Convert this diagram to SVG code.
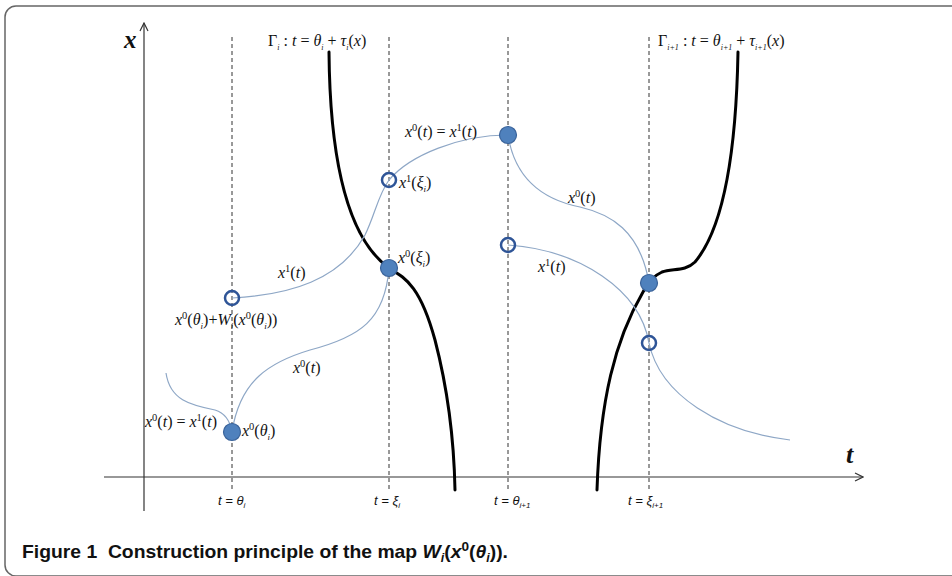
<svg xmlns="http://www.w3.org/2000/svg" width="952" height="576" viewBox="0 0 952 576">
<defs>
<style>
.t{font-family:"Liberation Serif",serif;font-size:16px;fill:#111}
.it{font-style:italic}
.sp{font-size:10.5px}
.sb{font-size:9px}
.gs{font-size:8px}
.ax{font-family:"Liberation Sans",sans-serif;font-size:13px;font-style:italic;fill:#111}
.axs{font-size:8px}
.guide{stroke:#333;stroke-width:1;stroke-dasharray:4 3;fill:none}
.gamma{stroke:#000;stroke-width:3;fill:none;stroke-linecap:round}
.traj{stroke:#8ea7c6;stroke-width:1.2;fill:none}
.dot{fill:#4f81bd;stroke:#3a639a;stroke-width:1.2}
.ring{fill:none;stroke:#2f5597;stroke-width:2.5}
.axis{stroke:#333;stroke-width:1.2;fill:none}
.cap{font-family:"Liberation Sans",sans-serif;font-size:18.5px;font-weight:bold;fill:#111}
</style>
<marker id="arr" viewBox="0 0 10 10" refX="9" refY="5" markerWidth="10" markerHeight="10" markerUnits="userSpaceOnUse" orient="auto">
<path d="M1 1 L9 5 L1 9" fill="none" stroke="#333" stroke-width="1.2"/>
</marker>
</defs>
<rect width="952" height="576" fill="#fff"/>
<rect id="frame" x="5" y="6" width="970" height="570" rx="11" fill="none" stroke="#666" stroke-width="1.5"/>

<g id="axes">
<line class="axis" x1="144" y1="511" x2="144" y2="23" marker-end="url(#arr)"/>
<line class="axis" x1="104" y1="477" x2="863" y2="477" marker-end="url(#arr)"/>
<text x="124" y="48" font-family="Liberation Serif,serif" font-size="25" font-style="italic" font-weight="bold" fill="#111">x</text>
<text x="846" y="463" font-family="Liberation Serif,serif" font-size="26" font-style="italic" font-weight="bold" fill="#111">t</text>
</g>

<g id="guides">
<line class="guide" x1="232" y1="37" x2="232" y2="490"/>
<line class="guide" x1="389" y1="37" x2="389" y2="490"/>
<line class="guide" x1="508" y1="37" x2="508" y2="490"/>
<line class="guide" x1="649" y1="37" x2="649" y2="490"/>
<text class="ax" x="218" y="505">t = θ<tspan class="axs" dy="3">i</tspan></text>
<text class="ax" x="374" y="505">t = ξ<tspan class="axs" dy="3">i</tspan></text>
<text class="ax" x="494" y="505">t = θ<tspan class="axs" dy="3">i+1</tspan></text>
<text class="ax" x="628" y="505">t = ξ<tspan class="axs" dy="3">i+1</tspan></text>
</g>

<g id="connectors">
<path id="gamma-i" class="gamma" d="M329 52 C330 170 350 240 389 268 C405 278 420 285 435 340 C448 390 454 440 455 490"/>
<path id="gamma-i1" class="gamma" d="M738 52 C736 160 722 230 695 262 C685 272 672 268 662 272 C653 276 648 282 643 292 C615 340 600 400 597 490"/>
<path class="traj" d="M166 373 C170 400 190 405 215 410 C225 413 230 420 232 432"/>
<path class="traj" d="M232 432 C240 380 270 362 310 350 C360 337 385 320 389 268"/>
<path class="traj" d="M232 298 C290 295 340 280 365 235 C375 215 378 195 389 180 C410 155 460 135 508 135"/>
<path class="traj" d="M508 135 C515 180 545 200 580 207 C610 214 640 230 649 283"/>
<path class="traj" d="M508 245 C580 250 640 290 649 343 C660 395 720 432 790 440"/>
</g>

<g id="labels-gamma">
<text class="t" x="268" y="46">Γ<tspan class="gs it" dy="4">i</tspan><tspan dy="-4"> : </tspan><tspan class="it">t</tspan> = <tspan class="it">θ</tspan><tspan class="gs it" dy="4">i</tspan><tspan dy="-4"> + </tspan><tspan class="it">τ</tspan><tspan class="gs it" dy="4">i</tspan><tspan dy="-4">(</tspan><tspan class="it">x</tspan>)</text>
<text class="t" x="658" y="46">Γ<tspan class="gs it" dy="4">i+1</tspan><tspan dy="-4"> : </tspan><tspan class="it">t</tspan> = <tspan class="it">θ</tspan><tspan class="gs it" dy="4">i+1</tspan><tspan dy="-4"> + </tspan><tspan class="it">τ</tspan><tspan class="gs it" dy="4">i+1</tspan><tspan dy="-4">(</tspan><tspan class="it">x</tspan>)</text>
</g>

<g id="node-theta-i">
<circle class="dot" cx="232" cy="432" r="8.5"/>
<text class="t" x="242" y="436"><tspan class="it">x</tspan><tspan class="sp" dy="-6">0</tspan><tspan dy="6">(</tspan><tspan class="it">θ</tspan><tspan class="sb it" dy="4">i</tspan><tspan dy="-4">)</tspan></text>
<text class="t" x="145" y="427"><tspan class="it">x</tspan><tspan class="sp" dy="-6">0</tspan><tspan dy="6">(</tspan><tspan class="it">t</tspan>) = <tspan class="it">x</tspan><tspan class="sp" dy="-6">1</tspan><tspan dy="6">(</tspan><tspan class="it">t</tspan>)</text>
</g>

<g id="node-jump-i">
<circle class="ring" cx="232" cy="298" r="7"/>
<text class="t" x="175" y="325"><tspan class="it">x</tspan><tspan class="sp" dy="-6">0</tspan><tspan dy="6">(</tspan><tspan class="it">θ</tspan><tspan class="sb it" dy="4">i</tspan><tspan dy="-4">)+</tspan><tspan class="it">W</tspan><tspan class="sb it" dy="4">i</tspan><tspan dy="-4">(</tspan><tspan class="it">x</tspan><tspan class="sp" dy="-6">0</tspan><tspan dy="6">(</tspan><tspan class="it">θ</tspan><tspan class="sb it" dy="4">i</tspan><tspan dy="-4">))</tspan></text>
</g>

<g id="node-xi-i">
<circle class="dot" cx="389" cy="268" r="8.5"/>
<text class="t" x="398" y="263"><tspan class="it">x</tspan><tspan class="sp" dy="-6">0</tspan><tspan dy="6">(</tspan><tspan class="it">ξ</tspan><tspan class="sb it" dy="4">i</tspan><tspan dy="-4">)</tspan></text>
</g>

<g id="node-x1-xi-i">
<circle class="ring" cx="389" cy="180" r="7"/>
<text class="t" x="399" y="188"><tspan class="it">x</tspan><tspan class="sp" dy="-6">1</tspan><tspan dy="6">(</tspan><tspan class="it">ξ</tspan><tspan class="sb it" dy="4">i</tspan><tspan dy="-4">)</tspan></text>
</g>

<g id="node-theta-i1">
<circle class="dot" cx="508" cy="135" r="8.5"/>
<text class="t" x="405" y="137"><tspan class="it">x</tspan><tspan class="sp" dy="-6">0</tspan><tspan dy="6">(</tspan><tspan class="it">t</tspan>) = <tspan class="it">x</tspan><tspan class="sp" dy="-6">1</tspan><tspan dy="6">(</tspan><tspan class="it">t</tspan>)</text>
</g>

<g id="node-jump-i1">
<circle class="ring" cx="508" cy="245" r="7"/>
</g>

<g id="node-xi-i1">
<circle class="dot" cx="649" cy="283" r="8.5"/>
</g>

<g id="node-x1-xi-i1">
<circle class="ring" cx="649" cy="343" r="7"/>
</g>

<g id="traj-labels">
<text class="t" x="278" y="278"><tspan class="it">x</tspan><tspan class="sp" dy="-6">1</tspan><tspan dy="6">(</tspan><tspan class="it">t</tspan>)</text>
<text class="t" x="293" y="373"><tspan class="it">x</tspan><tspan class="sp" dy="-6">0</tspan><tspan dy="6">(</tspan><tspan class="it">t</tspan>)</text>
<text class="t" x="568" y="203"><tspan class="it">x</tspan><tspan class="sp" dy="-6">0</tspan><tspan dy="6">(</tspan><tspan class="it">t</tspan>)</text>
<text class="t" x="538" y="272"><tspan class="it">x</tspan><tspan class="sp" dy="-6">1</tspan><tspan dy="6">(</tspan><tspan class="it">t</tspan>)</text>
</g>

<text id="caption" class="cap" x="22" y="558" xml:space="preserve" textLength="486" lengthAdjust="spacingAndGlyphs">Figure 1  Construction principle of the map <tspan font-style="italic">W</tspan><tspan font-style="italic" font-size="12" dy="4">i</tspan><tspan dy="-4">(</tspan><tspan font-style="italic">x</tspan><tspan font-size="13" dy="-7">0</tspan><tspan dy="7">(</tspan><tspan font-style="italic">θ</tspan><tspan font-style="italic" font-size="12" dy="4">i</tspan><tspan dy="-4">)).</tspan></text>
</svg>
